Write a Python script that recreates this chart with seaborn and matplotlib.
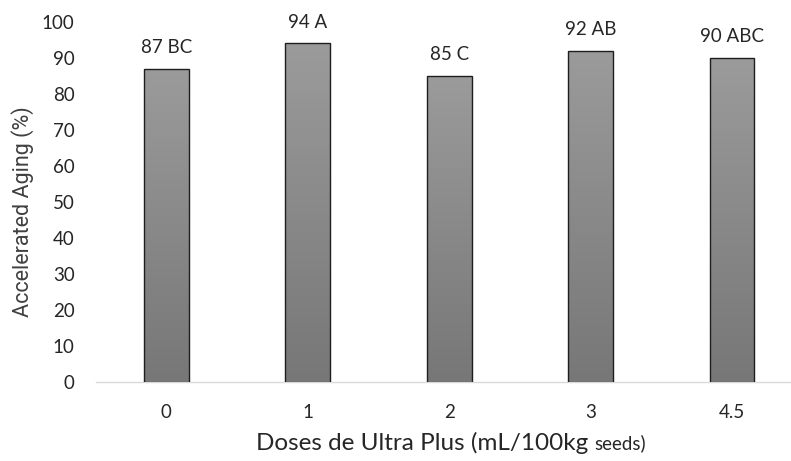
import matplotlib
matplotlib.use("Agg")
import matplotlib.pyplot as plt
import seaborn as sns
import numpy as np
import pandas as pd
from matplotlib.colors import LinearSegmentedColormap

doses = ["0", "1", "2", "3", "4.5"]
aging = [87, 94, 85, 92, 90]
letters = ["BC", "A", "C", "AB", "ABC"]

df = pd.DataFrame({"dose": doses, "aging": aging})

sns.set_theme(style="white")
plt.rcParams["font.family"] = ["Lato", "DejaVu Sans"]

fig = plt.figure(figsize=(7.91, 4.61), dpi=100)
W, H = 791, 461
ax = fig.add_axes([95.5 / W, 79 / H, (790 - 95.5) / W, (382 - 21.7) / H])

sns.barplot(data=df, x="dose", y="aging", ax=ax, width=0.318,
            color="#888888", edgecolor="#1e1e1e", linewidth=1.0)

# vertical gradient fill per bar
grad = np.linspace(0, 1, 256).reshape(-1, 1)
cmap = LinearSegmentedColormap.from_list("g", ["#777777", "#9b9b9b"])
for p in ax.patches:
    x0, y0 = p.get_x(), p.get_y()
    w, h = p.get_width(), p.get_height()
    im = ax.imshow(grad, extent=[x0, x0 + w, y0, y0 + h], origin="lower",
                   cmap=cmap, aspect="auto", zorder=2,
                   interpolation="bicubic")
    im.set_clip_path(p)
    p.set_facecolor("none")
    p.set_zorder(3)

for i, (v, l) in enumerate(zip(aging, letters)):
    ax.annotate(f"{v} {l}", xy=(i, v), xytext=(0, 15), textcoords="offset points",
                ha="center", va="center", fontsize=13.5, color="#262626")

ax.set_xlim(-0.5, 4.41)
ax.set_ylim(0, 100)
ax.set_yticks(np.arange(0, 101, 10))
ax.tick_params(axis="y", length=0, pad=15, labelsize=13.5, labelcolor="#262626")
ax.tick_params(axis="x", length=0, pad=16, labelsize=13.5, labelcolor="#262626")

for s in ["top", "right", "left"]:
    ax.spines[s].set_visible(False)
ax.spines["bottom"].set_color("#d9d9d9")
ax.spines["bottom"].set_linewidth(1.0)

ax.set_xlabel("")
ax.set_ylabel("")

# x label with smaller "seeds)"
t1 = fig.text(0, 1 - 443 / H, "Doses de Ultra Plus (mL/100kg ", ha="left", va="center",
              fontsize=17.5, color="#262626")
t2 = fig.text(0, 1 - 443 / H, "seeds)", ha="left", va="center",
              fontsize=13.5, color="#262626")
fig.canvas.draw()
r = fig.canvas.get_renderer()
w1 = t1.get_window_extent(r).width
w2 = t2.get_window_extent(r).width
start = 451 - (w1 + w2) / 2
t1.set_x(start / W)
t2.set_x((start + w1) / W)

fig.text(23 / W, 1 - 212 / H, "Accelerated Aging (%)", rotation=90, ha="center", va="center",
         fontsize=15.5, color="#404040", family=["Roboto", "DejaVu Sans"])

fig.savefig("out.png", dpi=100)
